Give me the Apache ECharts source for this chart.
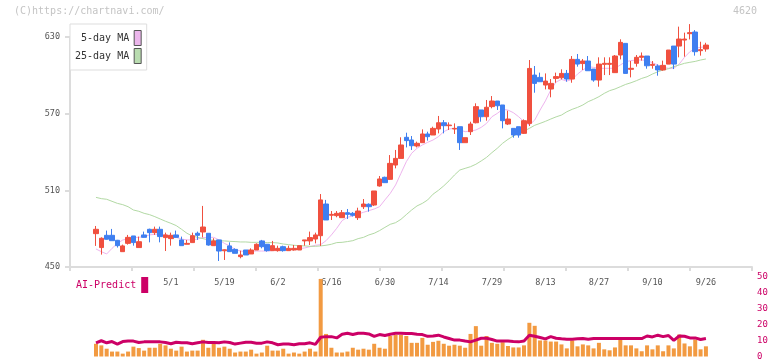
<!DOCTYPE html>
<html>
<head>
<meta charset="utf-8">
<script src="https://cdn.jsdelivr.net/npm/echarts@6/dist/echarts.min.js"></script>
<style>html,body{margin:0;padding:0;background:#fff}#c{width:772px;height:361px}</style>
</head>
<body>
<div id="c"></div>
<script>
const dates = ['4/10','4/11','4/14','4/15','4/16','4/17','4/18','4/21','4/22','4/23','4/24','4/25','4/28','4/30','5/1','5/2','5/7','5/8','5/9','5/12','5/13','5/14','5/15','5/16','5/19','5/20','5/21','5/22','5/23','5/26','5/27','5/28','5/29','5/30','6/2','6/3','6/4','6/5','6/6','6/9','6/10','6/11','6/12','6/13','6/16','6/17','6/18','6/19','6/20','6/23','6/24','6/25','6/26','6/27','6/30','7/1','7/2','7/3','7/4','7/7','7/8','7/9','7/10','7/11','7/14','7/15','7/16','7/17','7/18','7/22','7/23','7/24','7/25','7/28','7/29','7/30','7/31','8/1','8/4','8/5','8/6','8/7','8/8','8/12','8/13','8/14','8/15','8/18','8/19','8/20','8/21','8/22','8/25','8/26','8/27','8/28','8/29','9/1','9/2','9/3','9/4','9/5','9/8','9/9','9/10','9/11','9/12','9/16','9/17','9/18','9/19','9/22','9/24','9/25','9/26'];

const opens = [476.1,465.2,474.8,474.8,470.9,462.0,468.5,474.3,465.2,475.1,479.5,476.9,479.5,473.0,472.2,475.1,471.2,467.8,469.1,476.4,477.4,476.4,466.7,471.2,462.7,466.5,463.8,458.1,463.3,460.2,463.3,470.4,467.8,462.8,462.8,465.9,462.8,463.3,463.3,470.4,470.4,471.9,474.5,499.3,490.5,490.2,488.6,492.5,492.0,488.6,497.2,499.1,498.5,513.4,520.2,518.6,529.8,535.0,551.5,549.4,544.7,547.3,554.1,553.3,558.0,562.9,560.6,558.0,559.8,547.3,555.9,562.9,572.9,567.6,575.5,579.9,576.8,561.9,558.5,559.8,554.6,562.4,600.2,598.4,592.4,589.3,597.6,598.1,601.5,597.1,612.5,609.2,611.2,604.9,596.3,608.6,608.6,602.1,615.9,625.0,604.7,609.4,614.1,615.1,607.8,607.3,604.2,608.8,622.9,622.9,627.6,632.6,633.9,619.3,620.6];
const closes = [479.5,472.5,471.7,470.6,466.7,466.5,473.2,469.1,469.8,473.2,476.9,479.5,473.8,475.1,474.8,473.2,466.7,468.5,474.5,474.8,481.3,467.2,470.4,462.5,463.5,462.0,460.7,459.4,459.4,463.3,467.8,465.9,462.8,466.7,464.6,462.8,464.6,464.6,466.7,471.2,473.0,475.1,502.5,486.8,491.2,492.0,492.5,491.2,490.5,493.8,499.3,497.2,509.5,518.9,516.0,531.1,535.0,545.5,548.9,544.9,546.8,554.1,552.0,558.5,562.9,560.6,561.1,558.5,547.3,551.2,561.9,575.5,567.6,575.0,579.9,576.2,564.5,565.8,553.3,553.3,564.5,605.4,593.7,595.0,595.5,593.7,599.0,601.5,597.1,612.5,608.8,611.2,603.6,596.3,608.8,609.4,609.4,615.1,625.8,601.5,605.5,614.1,615.1,607.5,608.6,604.2,607.8,619.8,608.8,628.4,628.4,633.4,618.5,620.1,623.7];
const lows = [466.5,459.7,471.5,470.6,465.2,462.0,467.5,466.7,465.2,473.0,469.3,475.1,469.3,462.5,466.7,473.0,466.7,467.8,469.0,471.2,473.2,466.7,466.7,454.7,455.5,462.0,460.7,456.8,459.4,460.2,463.3,464.6,462.0,462.8,462.0,462.0,462.8,462.8,463.3,466.7,467.2,468.5,466.5,486.8,486.8,488.9,488.6,487.6,489.5,486.8,495.4,493.3,497.7,512.9,516.0,518.1,527.2,535.0,543.6,541.6,543.6,547.3,548.9,553.3,554.6,554.6,557.2,554.1,541.6,547.3,553.3,562.4,563.7,564.5,574.2,572.9,558.5,561.1,551.2,551.2,554.1,560.3,586.4,595.0,589.0,582.8,594.2,596.8,595.0,594.2,606.8,604.2,603.6,595.0,591.1,600.2,600.2,602.1,612.5,601.5,598.4,606.8,611.5,605.2,605.2,599.7,603.6,608.8,604.9,614.1,614.6,628.1,615.4,615.4,618.5];
const highs = [482.1,473.2,478.5,479.8,471.2,467.5,475.1,474.3,473.8,477.7,480.0,481.6,481.6,476.9,476.9,478.5,473.8,471.2,476.9,477.7,497.8,476.4,472.5,471.2,463.8,469.3,464.6,462.8,463.3,464.6,468.5,471.2,467.8,470.4,466.7,466.7,466.7,467.2,466.7,471.2,477.7,476.9,507.1,502.5,493.8,493.8,494.6,495.4,493.0,496.4,503.2,499.8,509.5,521.2,520.7,537.6,541.6,551.5,555.1,552.5,548.1,557.7,555.9,559.8,568.2,565.0,563.2,562.4,559.8,551.2,563.7,578.1,572.9,580.7,583.8,579.9,576.8,572.3,558.5,559.8,565.5,612.0,607.3,602.1,601.5,597.1,602.1,604.7,604.2,615.1,616.7,612.8,615.1,604.9,614.1,614.1,614.1,615.9,628.2,625.0,611.2,615.9,617.9,615.1,611.2,608.6,611.5,619.8,622.9,638.1,633.4,640.1,635.4,626.3,625.5];

const ma5 = [464.1,462.0,460.2,464.6,468.5,471.1,472.2,473.0,473.2,473.8,475.1,475.6,475.6,475.1,474.3,473.2,471.9,471.2,471.2,471.9,473.0,473.2,473.2,471.2,468.5,466.5,463.8,462.5,462.0,462.3,462.5,462.5,462.5,462.8,463.3,463.3,463.8,464.1,464.4,464.9,465.9,467.0,467.5,470.6,475.1,480.3,486.3,488.9,489.9,491.5,492.8,494.1,495.4,497.2,502.5,507.6,514.2,523.3,532.4,539.0,542.9,545.5,547.6,549.4,552.0,555.9,558.0,558.5,557.2,555.9,556.4,557.2,559.3,562.4,567.6,570.2,573.4,572.8,570.8,567.6,563.7,561.1,565.0,572.8,580.0,588.5,594.8,596.8,595.5,596.8,601.0,604.2,606.8,606.2,605.5,605.5,605.5,605.5,608.1,610.7,611.5,612.0,612.0,611.5,609.9,608.1,606.2,605.5,605.5,608.8,614.1,618.5,621.1,621.9,622.4];
const ma25 = [504.5,503.5,503.0,501.4,499.8,498.8,497.2,494.6,493.6,492.0,491.0,489.4,487.6,485.8,484.2,482.4,479.5,476.4,474.3,473.2,472.2,471.2,470.9,470.6,470.4,470.1,469.9,469.6,469.6,469.3,469.3,469.3,469.1,469.1,468.8,468.0,467.5,467.0,466.7,466.5,466.2,466.2,466.5,467.0,467.8,469.1,469.3,469.9,470.6,472.2,473.2,475.1,476.4,478.5,481.0,483.4,484.7,487.3,491.0,494.6,497.8,499.8,502.5,507.0,510.0,513.5,517.5,522.0,525.9,527.2,528.5,530.4,533.0,535.8,539.5,542.9,546.8,549.9,552.5,554.6,556.4,558.5,560.9,562.4,564.0,565.8,567.5,568.9,571.5,573.4,574.9,576.8,579.4,581.2,583.3,585.9,588.0,589.3,591.1,592.9,594.2,595.8,597.6,598.9,601.0,602.8,604.2,605.2,606.8,608.1,609.4,610.2,610.9,612.0,612.8];

const volumes = [8.0,7.0,4.9,3.1,3.1,1.8,3.1,6.2,5.3,3.7,5.5,5.5,8.0,7.0,4.9,3.7,6.2,3.1,3.7,3.7,10.5,5.5,8.0,5.5,6.2,4.9,2.5,3.1,3.1,4.3,1.8,2.5,6.8,3.7,3.7,4.9,1.8,2.5,1.8,3.1,4.9,3.1,48.8,14.2,5.5,2.5,2.5,3.1,5.5,4.3,4.9,4.3,8.0,5.5,4.9,12.9,13.6,13.6,12.9,8.6,8.6,11.7,7.4,9.2,9.9,8.0,6.8,7.4,6.8,5.5,14.2,19.1,6.8,12.9,8.6,8.0,9.0,6.6,5.7,5.7,7.0,21.2,19.3,10.1,10.1,9.4,9.4,7.6,5.1,10.1,6.4,7.6,7.0,5.1,8.6,4.5,3.9,5.7,10.7,7.0,7.0,5.1,3.3,7.0,4.5,7.0,3.3,7.0,5.1,13.8,8.2,6.4,10.7,4.5,6.4];
const aiPredict = [8.6,9.9,8.6,9.4,7.8,9.4,9.7,9.7,8.8,9.2,9.2,9.2,9.2,8.8,8.0,9.0,8.6,8.6,8.0,8.6,9.2,8.8,8.8,8.6,9.2,8.8,7.8,8.4,9.0,8.9,8.4,8.4,9.2,8.6,7.4,7.8,7.8,7.4,8.0,8.0,8.6,7.6,12.1,12.5,12.5,11.7,14.0,14.6,13.8,14.6,14.6,14.2,12.7,13.8,13.2,14.0,14.6,14.6,14.4,14.4,14.0,13.8,12.7,12.9,13.4,12.3,11.3,10.3,10.3,9.7,9.2,10.3,11.5,11.5,10.7,9.7,9.7,9.7,9.4,9.2,9.7,13.4,12.7,11.9,11.1,12.5,11.5,11.1,10.9,10.9,11.1,11.3,10.9,11.3,11.3,11.3,11.3,11.3,11.3,11.3,11.3,11.3,11.3,12.9,12.3,13.4,12.5,13.2,10.1,12.9,12.7,11.7,11.7,10.7,11.3];

const priceMin = 450, priceMax = 630, priceStep = 60;
const volMin = 0, volMax = 50, volStep = 10;
const firstLabelIdx = 14, labelEvery = 10;

const MONO = '"DejaVu Sans Mono", "Liberation Mono", monospace';
const RED = '#f0503f', BLUE = '#3f7ff0';

const chart = echarts.init(document.getElementById('c'), null, {renderer: 'canvas'});
const candleLeft = 93.3, candleWidth = 615.3;

chart.setOption({
  animation: false,
  backgroundColor: '#fff',
  title: [
    {text: '(C)https://chartnavi.com/', left: 14, top: 6, padding: 0,
     textStyle: {color: '#c4c4c4', fontSize: 10, fontWeight: 'normal', fontFamily: MONO}},
    {text: '4620', right: 15, top: 6, padding: 0,
     textStyle: {color: '#c4c4c4', fontSize: 10, fontWeight: 'normal', fontFamily: MONO}}
  ],
  legend: [
    {
      left: 70, top: 24, orient: 'vertical', align: 'right',
      itemWidth: 7, itemHeight: 15, itemGap: 2,
      padding: [6, 5, 6, 5],
      borderColor: '#dddddd', borderWidth: 1, backgroundColor: '#fff',
      selectedMode: false,
      textStyle: {fontFamily: MONO, fontSize: 10, color: '#333'},
      data: [
        {name: '5-day MA', icon: 'rect', itemStyle: {color: '#ebb6eb', borderColor: '#555', borderWidth: 1}},
        {name: '25-day MA', icon: 'rect', itemStyle: {color: '#b9dcb0', borderColor: '#555', borderWidth: 1}}
      ]
    },
    {
      left: 71, top: 272, orient: 'horizontal', align: 'right',
      itemWidth: 7, itemHeight: 16, padding: 5,
      selectedMode: false,
      textStyle: {fontFamily: MONO, fontSize: 10, color: '#cc0066'},
      data: [{name: 'AI-Predict', icon: 'rect', itemStyle: {color: '#cc0066'}}]
    }
  ],
  grid: [
    {left: 70, width: 682, top: 37, height: 230},
    {left: candleLeft, width: candleWidth, top: 37, height: 230},
    {left: candleLeft, width: candleWidth, top: 277, height: 81}
  ],
  xAxis: [
    {type: 'value', gridIndex: 0, min: 0, max: 11, interval: 1,
     axisLine: {show: true, lineStyle: {color: '#dcdcdc', width: 2}},
     axisTick: {show: true, length: 4, lineStyle: {color: '#dcdcdc', width: 2}},
     axisLabel: {show: false}, splitLine: {show: false}},
    {type: 'category', gridIndex: 1, data: dates, boundaryGap: true,
     axisLine: {show: false}, axisTick: {show: false}, splitLine: {show: false},
     axisLabel: {
       interval: (idx) => idx >= firstLabelIdx && (idx - firstLabelIdx) % labelEvery === 0,
       color: '#555', fontSize: 8.5, fontFamily: MONO, margin: 11
     }},
    {type: 'category', gridIndex: 2, data: dates, boundaryGap: true, show: false}
  ],
  yAxis: [
    {type: 'value', gridIndex: 0, min: priceMin, max: priceMax, interval: priceStep,
     axisLine: {show: true, lineStyle: {color: '#dcdcdc', width: 2}},
     axisTick: {show: true, length: 5, lineStyle: {color: '#dcdcdc', width: 2}},
     axisLabel: {color: '#555', fontSize: 8.5, fontFamily: MONO, margin: 10},
     splitLine: {show: false}},
    {type: 'value', gridIndex: 1, min: priceMin, max: priceMax, show: false},
    {type: 'value', gridIndex: 2, min: volMin, max: volMax, interval: volStep,
     position: 'right', offset: 752 - (candleLeft + candleWidth),
     axisLine: {show: false}, axisTick: {show: false}, splitLine: {show: false},
     axisLabel: {color: '#cc0066', fontSize: 9, fontFamily: MONO, margin: 5}}
  ],
  series: [
    {
      name: 'Price', type: 'candlestick', xAxisIndex: 1, yAxisIndex: 1,
      barWidth: 5, clip: false,
      itemStyle: {color: RED, color0: BLUE, borderColor: RED, borderColor0: BLUE, borderWidth: 1},
      data: dates.map((d, i) => [opens[i], closes[i], lows[i], highs[i]])
    },
    {
      name: '5-day MA', type: 'line', xAxisIndex: 1, yAxisIndex: 1,
      data: ma5, symbol: 'none', color: '#ebb6eb',
      lineStyle: {width: 1, color: '#eeb4ee'}, z: 1
    },
    {
      name: '25-day MA', type: 'line', xAxisIndex: 1, yAxisIndex: 1,
      data: ma25, symbol: 'none', color: '#b9dcb0',
      lineStyle: {width: 1, color: '#b2d9a4'}, z: 1
    },
    {
      name: 'Volume', type: 'bar', xAxisIndex: 2, yAxisIndex: 2,
      data: volumes, barWidth: 4, itemStyle: {color: '#f29a41'}
    },
    {
      name: 'AI-Predict', type: 'line', xAxisIndex: 2, yAxisIndex: 2,
      data: aiPredict, symbol: 'none', color: '#cc0066',
      lineStyle: {width: 3, color: '#cc0066'}, z: 5
    }
  ]
});
</script>
</body>
</html>
